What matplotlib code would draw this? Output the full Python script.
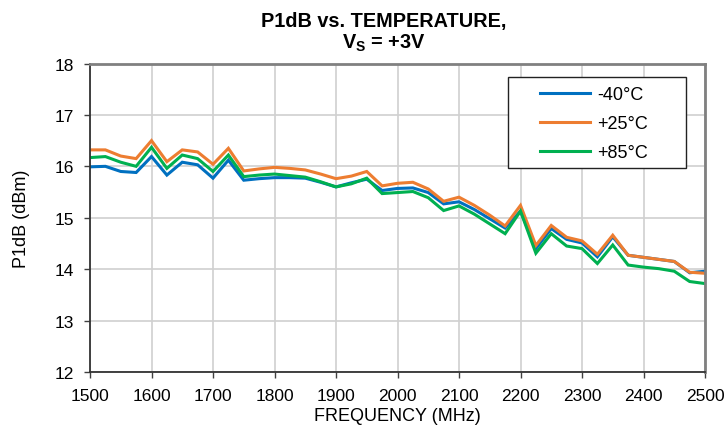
import matplotlib
matplotlib.use("Agg")
import matplotlib.pyplot as plt
from matplotlib import font_manager
from matplotlib.patches import Rectangle

names = {f.name for f in font_manager.fontManager.ttflist}
has_narrow = "Liberation Sans Narrow" in names
narrow = "Liberation Sans Narrow" if has_narrow else "Liberation Sans"
tsize = 16.5 if has_narrow else 14.3

plt.rcParams['font.family'] = ['Liberation Sans', 'DejaVu Sans']
plt.rcParams['mathtext.fontset'] = 'custom'
plt.rcParams['mathtext.rm'] = narrow + ':bold'
plt.rcParams['mathtext.bf'] = narrow + ':bold'

freq = [1500, 1525, 1550, 1575, 1600, 1625, 1650, 1675, 1700, 1725, 1750, 1775,
        1800, 1825, 1850, 1875, 1900, 1925, 1950, 1975, 2000, 2025, 2050, 2075,
        2100, 2125, 2150, 2175, 2200, 2225, 2250, 2275, 2300, 2325, 2350, 2375,
        2400, 2425, 2450, 2475, 2500]

p_m40 = [15.99, 16.00, 15.90, 15.88, 16.19, 15.83, 16.08, 16.03, 15.77, 16.12, 15.73, 15.76,
         15.78, 15.78, 15.77, 15.69, 15.60, 15.68, 15.75, 15.53, 15.57, 15.58, 15.49, 15.27,
         15.31, 15.16, 14.98, 14.80, 15.13, 14.40, 14.79, 14.58, 14.51, 14.24, 14.63, 14.27,
         14.23, 14.19, 14.15, 13.93, 13.96]

p_25 = [16.32, 16.32, 16.20, 16.15, 16.50, 16.09, 16.32, 16.28, 16.04, 16.35, 15.91, 15.95,
        15.98, 15.96, 15.93, 15.85, 15.76, 15.81, 15.90, 15.62, 15.67, 15.69, 15.56, 15.32,
        15.40, 15.24, 15.05, 14.84, 15.24, 14.46, 14.85, 14.62, 14.55, 14.29, 14.66, 14.27,
        14.23, 14.19, 14.15, 13.94, 13.92]

p_85 = [16.17, 16.19, 16.08, 16.00, 16.37, 15.96, 16.22, 16.15, 15.90, 16.22, 15.80, 15.83,
        15.85, 15.82, 15.79, 15.70, 15.60, 15.66, 15.77, 15.47, 15.49, 15.51, 15.39, 15.14,
        15.23, 15.07, 14.88, 14.69, 15.13, 14.31, 14.69, 14.45, 14.40, 14.11, 14.47, 14.08,
        14.04, 14.01, 13.96, 13.76, 13.72]

labels = ['-40°C', '+25°C', '+85°C']
colors = ['#0070C0', '#ED7D31', '#00B050']
xticks = list(range(1500, 2501, 100))
yticks = list(range(12, 19))

W, H = 725, 431
L, R, T, B = 90, 705, 64.5, 373
fig = plt.figure(figsize=(W / 100, H / 100), dpi=100)
ax = fig.add_axes([L / W, 1 - B / H, (R - L) / W, (B - T) / H])

def ax_xy(px, py):
    return (px - L) / (R - L), (B - py) / (B - T)

for ys, lab, c in zip([p_m40, p_25, p_85], labels, colors):
    ax.plot(freq, ys, color=c, lw=2.2, label=lab, solid_joinstyle='miter')

ax.set_xlim(1500, 2500)
ax.set_ylim(12, 18)
ax.set_xticks(xticks)
ax.set_yticks(yticks)
ax.grid(True, color='#D0D0D0', lw=1.2)
ax.set_axisbelow(True)
ax.tick_params(labelsize=12.5, length=4, width=1, color='#404040')
ax.tick_params(axis='x', pad=7.5)
ax.tick_params(axis='y', pad=7.5)
for s in ['left', 'bottom']:
    ax.spines[s].set_color('#333333')
    ax.spines[s].set_linewidth(1.3)
for s in ['top', 'right']:
    ax.spines[s].set_color('#808080')
    ax.spines[s].set_linewidth(2.0)

ax.set_xlabel('FREQUENCY (MHz)', fontsize=13, labelpad=3)
ax.set_ylabel('P1dB (dBm)', fontsize=13, labelpad=18)

# legend box
x0, y0 = ax_xy(508, 169)
x1, y1 = ax_xy(686, 78)
ax.add_patch(Rectangle((x0, y0), x1 - x0, y1 - y0, transform=ax.transAxes,
                       facecolor='white', edgecolor='#222222', lw=1.0, zorder=5))
lx, ly = ax_xy(544 - 9.5, 78 + 4)
leg = ax.legend(loc='upper left', bbox_to_anchor=(lx, ly), fontsize=13, frameon=False,
                handlelength=2.8, handletextpad=0.35, borderpad=0.3, labelspacing=0.66,
                borderaxespad=0)
leg.set_zorder(6)

cx = 384 / W
fig.text(cx, 1 - 22 / H, 'P1dB vs. TEMPERATURE,', ha='center', va='center',
         fontsize=tsize, fontweight='bold', family=narrow)
fig.text(cx, 1 - 43 / H, r'$\mathrm{V_S}$ = +3V', ha='center', va='center',
         fontsize=tsize, fontweight='bold', family=narrow)

fig.savefig('out.png', dpi=100)
